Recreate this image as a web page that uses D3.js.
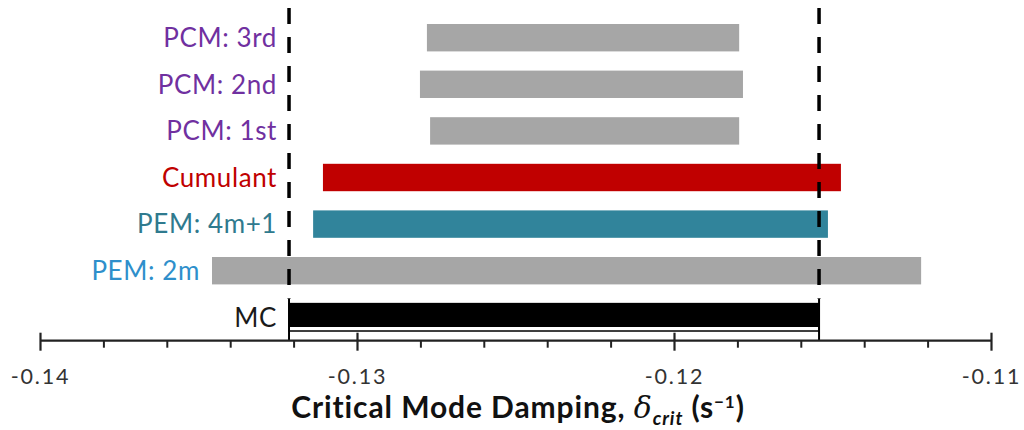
<!DOCTYPE html>
<html>
<head>
<meta charset="utf-8">
<script src="https://cdn.jsdelivr.net/npm/d3@7"></script>
<style>
  html, body { margin: 0; padding: 0; background: #fff; }
  svg { display: block; }
  text { font-family: Lato, "Open Sans", sans-serif; }
</style>
</head>
<body>
<svg id="chart" width="1024" height="430"></svg>
<script>
const categories = ["PCM: 3rd", "PCM: 2nd", "PCM: 1st", "Cumulant", "PEM: 4m+1", "PEM: 2m", "MC"];
const lowValues  = [-0.12781, -0.12803, -0.12771, -0.13109, -0.13140, -0.13459, -0.13216];
const highValues = [-0.11796, -0.11784, -0.11796, -0.11475, -0.11516, -0.11222, -0.11544];
const barColors   = ["#a6a6a6", "#a6a6a6", "#a6a6a6", "#c00000", "#31849b", "#a6a6a6", "#000000"];
const labelColors = ["#7030a0", "#7030a0", "#7030a0", "#c00000", "#2f7a8e", "#2e8fcb", "#1a1a1a"];
const mcBounds = [-0.13216, -0.11544];
const majorTicks = [-0.14, -0.13, -0.12, -0.11];
const minorTicks = [-0.138, -0.136, -0.134, -0.132, -0.128, -0.126, -0.124, -0.122,
                    -0.118, -0.116, -0.114, -0.112];
const xDomain = [-0.14, -0.11];

const svg = d3.select("#chart");
const x = d3.scaleLinear().domain(xDomain).range([40.5, 991.5]);
const y = d3.scaleBand().domain(categories).range([4.8, 350.2]).padding(0.412);
const axisY = 340.7;
const bw = y.bandwidth();

const rows = categories.map((c, i) => ({c, lo: lowValues[i], hi: highValues[i], bar: barColors[i], lab: labelColors[i]}));

// bars
svg.append("g").selectAll("rect").data(rows).join("rect")
  .attr("x", d => x(d.lo))
  .attr("y", d => y(d.c))
  .attr("width", d => x(d.hi) - x(d.lo))
  .attr("height", d => d.c === "MC" ? bw - 4 : bw)
  .attr("fill", d => d.bar);

// MC bar outline detail
const mc = rows[rows.length - 1];
svg.append("rect")
  .attr("x", x(mc.lo)).attr("y", y(mc.c))
  .attr("width", x(mc.hi) - x(mc.lo)).attr("height", bw)
  .attr("fill", "none").attr("stroke", "#000").attr("stroke-width", 1.5);

// labels
const leftDash = x(mcBounds[0]);
svg.append("g").selectAll("text").data(rows).join("text")
  .attr("x", d => Math.min(x(d.lo), leftDash) - 12)
  .attr("y", d => y(d.c) + bw / 2)
  .attr("dy", "0.36em")
  .attr("text-anchor", "end")
  .attr("font-size", 26)
  .attr("letter-spacing", 0.6)
  .attr("fill", d => d.lab)
  .text(d => d.c);

// dashed reference lines
const dashG = svg.append("g");
mcBounds.forEach(v => {
  dashG.append("line")
    .attr("x1", x(v)).attr("x2", x(v))
    .attr("y1", 8).attr("y2", y("MC") - 5)
    .attr("stroke", "#000").attr("stroke-width", 3.5)
    .attr("stroke-dasharray", "16,13").attr("stroke-dashoffset", 0);
  dashG.append("line")
    .attr("x1", x(v)).attr("x2", x(v))
    .attr("y1", y("MC") - 5).attr("y2", axisY)
    .attr("stroke", "#000").attr("stroke-width", 2);
});

// axis
const axisG = svg.append("g").attr("transform", `translate(0,${axisY})`);
axisG.append("line").attr("x1", x(xDomain[0])).attr("x2", x(xDomain[1]))
  .attr("stroke", "#222").attr("stroke-width", 2.2);
axisG.selectAll("line.minor").data(minorTicks).join("line").attr("class", "minor")
  .attr("x1", d => x(d)).attr("x2", d => x(d)).attr("y1", 0).attr("y2", 7)
  .attr("stroke", "#222").attr("stroke-width", 2);
axisG.selectAll("line.major").data(majorTicks).join("line").attr("class", "major")
  .attr("x1", d => x(d)).attr("x2", d => x(d)).attr("y1", -8).attr("y2", 10)
  .attr("stroke", "#222").attr("stroke-width", 2.2);
axisG.selectAll("text.tick").data(majorTicks).join("text").attr("class", "tick")
  .attr("x", d => x(d)).attr("y", 43)
  .attr("text-anchor", "middle").attr("font-size", 21.5).attr("letter-spacing", 1.8).attr("fill", "#333")
  .text(d => d3.format(".2f")(d).replace("−", "-"));

// axis title
const title = svg.append("text")
  .attr("x", 518).attr("y", 418)
  .attr("text-anchor", "middle").attr("font-size", 30).attr("letter-spacing", 0.9)
  .attr("font-weight", "bold").attr("fill", "#111");
title.append("tspan").text("Critical Mode Damping, ");
title.append("tspan").attr("font-style", "italic").attr("font-weight", "normal").attr("font-family", "'DejaVu Serif', serif").text("δ");
title.append("tspan").attr("font-style", "italic").attr("font-size", 19).attr("dy", 7).text("crit");
title.append("tspan").attr("dy", -7).text(" (s");
title.append("tspan").attr("font-size", 17).attr("dy", -10).text("−1");
title.append("tspan").attr("dy", 10).text(")");
</script>
</body>
</html>
